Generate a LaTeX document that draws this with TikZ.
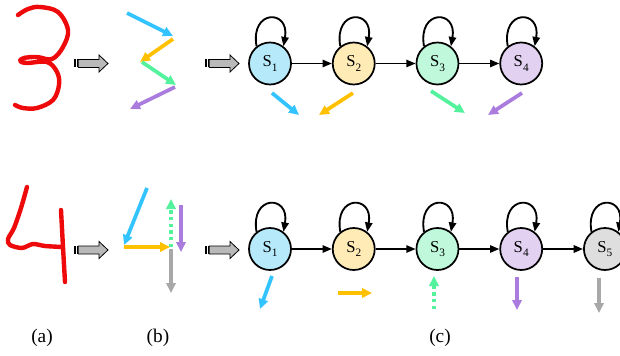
\documentclass[tikz,border=0pt]{standalone}
\usepackage{fontspec}
\setmainfont{Liberation Serif}
\usetikzlibrary{arrows.meta,positioning}
\definecolor{penred}{HTML}{EE0A0A}
\definecolor{skyA}{HTML}{33C4FF}
\definecolor{goldA}{HTML}{FFC000}
\definecolor{mintA}{HTML}{55F29E}
\definecolor{lilacA}{HTML}{A97CDD}
\definecolor{greyA}{HTML}{A8A8A8}
\definecolor{skyF}{HTML}{B6EAFB}
\definecolor{goldF}{HTML}{FEEBB5}
\definecolor{mintF}{HTML}{BFF8DA}
\definecolor{lilacF}{HTML}{E2D1F1}
\definecolor{greyF}{HTML}{DEDEDE}
\newcommand{\Sx}[1]{S\raisebox{-0.55ex}{\fontsize{8.5}{9}\selectfont #1}}
\tikzset{
  state/.style={circle, draw=black, line width=1.3pt, minimum size=31.5pt,
                inner sep=0pt, font=\fontsize{12.5}{14}\selectfont},
  trans/.style={-{Triangle[length=7pt,width=5.5pt]}, line width=1.4pt},
  selfloop/.style={trans, out=100, in=80, looseness=3.6},
  stroke/.style={line width=2.8pt, -{Triangle[length=7.5pt,width=7pt]}},
  digit/.style={draw=penred, line width=3.3pt, line cap=round, line join=round},
  caption/.style={font=\fontsize{14.5}{16}\selectfont},
  pics/feed/.style={code={
    \fill (0,-4) rectangle (2,4);
    \fill (3,-4) rectangle (4.2,4);
    \draw[fill=gray!55, line width=0.6pt] (4.2,-4) -- (25,-4) -- (25,-8.5)
      -- (34,0) -- (25,8.5) -- (25,4) -- (4.2,4) -- cycle;
  }}
}
\begin{document}
\begin{tikzpicture}[x=0.75pt,y=-0.75pt]
  \useasboundingbox (0,0) rectangle (620,356);
  % (a) handwritten digits
  \draw[digit] plot[smooth, tension=0.6] coordinates {(18,15) (28,9) (40,7) (58,12)
    (68,30) (63,47) (52,59) (37,57) (24,58) (20,61) (27,63) (47,62) (57,72) (59,85)
    (53,100) (37,108) (23,108) (15,105)};
  \draw[digit] plot[smooth, tension=0.5] coordinates {(27,187) (21,208) (14,228) (8,239)
    (10,245) (22,248) (33,244) (45,246) (63,247)};
  \draw[digit] plot[smooth] coordinates {(61,210) (63,247) (65,282)};
  % feed arrows
  \foreach \px/\py in {74/63.5,205/63.5,74/250,205/250}
    \pic at (\px,\py) {feed};
  % (b) stroke directions
  \draw[stroke, skyA] (127,13) -- (173,36);
  \draw[stroke, goldA] (173,39) -- (140,62);
  \draw[stroke, mintA] (142,62) -- (176,85);
  \draw[stroke, lilacA] (175,87) -- (130,109);
  \draw[stroke, skyA] (147,188) -- (124,245);
  \draw[stroke, goldA] (124,247) -- (170,247);
  \draw[stroke, mintA, dash pattern=on 2.5pt off 2.5pt] (171,247) -- (171,199);
  \draw[stroke, lilacA] (181,205) -- (181,252);
  \draw[stroke, greyA] (171,249) -- (171,293);
  % (c) top chain
  \node[state, fill=skyF] (a1) at (270,63.5) {\Sx1};
  \foreach \i/\j/\c in {2/1/goldF,3/2/mintF,4/3/lilacF}
    \node[state, fill=\c, right=30pt of a\j] (a\i) {\Sx\i};
  \foreach \i/\j in {1/2,2/3,3/4}
    \draw[trans] (a\i) -- (a\j);
  \foreach \i in {1,...,4}
    \draw[selfloop] (a\i.128) to (a\i.52);
  \draw[stroke, skyA] (272,93) -- (299,115);
  \draw[stroke, goldA] (353,93) -- (319,115);
  \draw[stroke, mintA] (431,91) -- (465,113);
  \draw[stroke, lilacA] (522,93) -- (488,115);
  % (c) bottom chain
  \node[state, fill=skyF] (b1) at (270,249) {\Sx1};
  \foreach \i/\j/\c in {2/1/goldF,3/2/mintF,4/3/lilacF,5/4/greyF}
    \node[state, fill=\c, right=30pt of b\j] (b\i) {\Sx\i};
  \foreach \i/\j in {1/2,2/3,3/4,4/5}
    \draw[trans] (b\i) -- (b\j);
  \foreach \i in {1,...,5}
    \draw[selfloop] (b\i.128) to (b\i.52);
  \draw[stroke, skyA] (272,276) -- (260,309);
  \draw[stroke, goldA] (338,293) -- (372,293);
  \draw[stroke, mintA, dash pattern=on 2.5pt off 2.5pt] (434,309) -- (434,276);
  \draw[stroke, lilacA] (517,277) -- (517,310);
  \draw[stroke, greyA] (599,278) -- (599,313);
  % captions
  \node[caption] (capa) at (42,338) {(a)};
  \node[caption] (capb) at (158,338) {(b)};
  \node[caption] (capc) at (440,338) {(c)};
\end{tikzpicture}
\end{document}
